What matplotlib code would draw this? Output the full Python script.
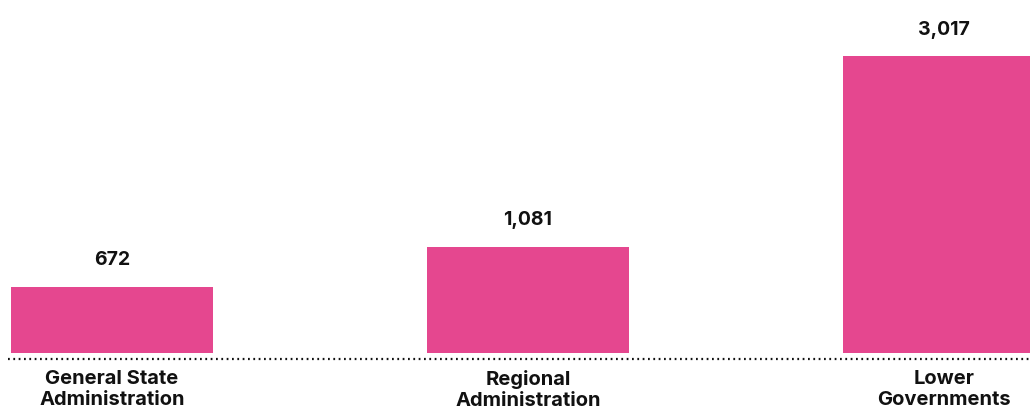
import matplotlib
matplotlib.use("Agg")
import matplotlib.pyplot as plt

categories = ["General State\nAdministration", "Regional\nAdministration", "Lower\nGovernments"]
values = [672, 1081, 3017]
value_labels = ["672", "1,081", "3,017"]

BAR_COLOR = "#E5478F"
TEXT_COLOR = "#111111"

plt.rcParams["font.family"] = ["Inter", "DejaVu Sans"]

fig = plt.figure(figsize=(10.30, 4.07), dpi=100)
ax = fig.add_axes([0, 54 / 407, 1, 353 / 407])

x = list(range(len(values)))
ax.bar(x, values, width=202 / 416, color=BAR_COLOR)

ax.set_xlim(-112 / 416, (1030 - 112) / 416)
ax.set_ylim(0, 3586)

for xi, v, lab in zip(x, values, value_labels):
    ax.annotate(lab, (xi, v), xytext=(0, 19), textcoords="offset points",
                ha="center", va="center", fontsize=14, fontweight="bold",
                color=TEXT_COLOR)

# dotted baseline below the bars
fig.add_artist(plt.Line2D([0.008, 1], [1 - 359 / 407, 1 - 359 / 407],
                          color=TEXT_COLOR, linewidth=1.6,
                          linestyle=(0, (0.8, 1.6)), transform=fig.transFigure))

for xi, cat in zip(x, categories):
    ax.text(xi, -17 / 353, cat, transform=ax.get_xaxis_transform(), ha="center",
            va="top", fontsize=14.5, fontweight="bold", color=TEXT_COLOR,
            linespacing=1.2)

ax.axis("off")
fig.savefig("out.png", dpi=100)
